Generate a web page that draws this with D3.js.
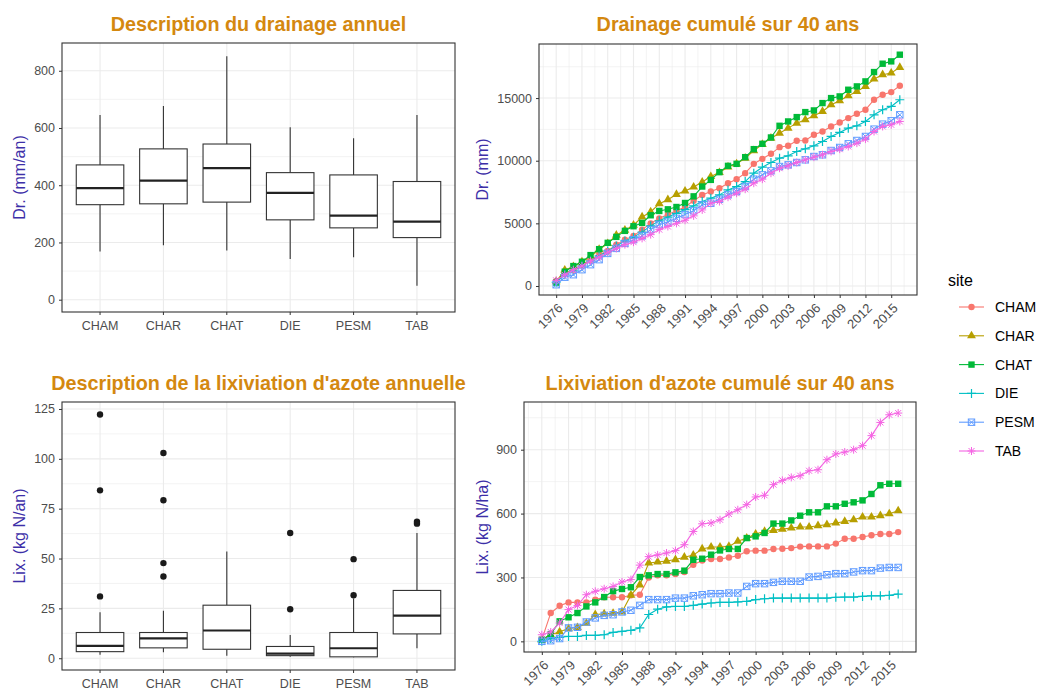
<!DOCTYPE html>
<html><head><meta charset="utf-8">
<script src="https://cdn.jsdelivr.net/npm/d3@7/dist/d3.min.js"></script>
<style>body{margin:0;background:#fff;} svg{display:block;font-family:"Liberation Sans",Arial,sans-serif;}</style>
</head><body><svg id="c" width="1039" height="690"></svg>
<script>
// ---------- DATA ----------
const sites = ["CHAM","CHAR","CHAT","DIE","PESM","TAB"];
const siteColors = ["#F8766D","#B79F00","#00BA38","#00BFC4","#619CFF","#F564E3"];
const siteShapes = ["circle","triangle","square","plus","squarex","asterisk"];
const years = [1976,1977,1978,1979,1980,1981,1982,1983,1984,1985,1986,1987,1988,1989,1990,1991,1992,1993,1994,1995,1996,1997,1998,1999,2000,2001,2002,2003,2004,2005,2006,2007,2008,2009,2010,2011,2012,2013,2014,2015,2016];
const yearTicks = [1976,1979,1982,1985,1988,1991,1994,1997,2000,2003,2006,2009,2012,2015];

// annual drainage boxplot statistics (mm/an)
const drLow  = [168,190,172,142,148,49];
const drQ1   = [332,335,341,279,251,217];
const drMed  = [390,416,460,373,294,273];
const drQ3   = [471,527,544,444,436,413];
const drHigh = [645,677,851,603,564,645];
const drTicks = [0,200,400,600,800];

// annual N leaching boxplot statistics (kg N/an)
const lxLow  = [1.7,3,1.3,0.8,0.5,5];
const lxQ1   = [3.3,5.2,4.5,1.3,0.7,12.2];
const lxMed  = [6.2,10,13.9,2.3,5,21.4];
const lxQ3   = [12.9,12.9,26.6,5.9,12.9,34];
const lxHigh = [23.1,23.8,53.5,11.7,30,62.8];
const lxOutSite = ["CHAM","CHAM","CHAM","CHAR","CHAR","CHAR","CHAR","DIE","DIE","PESM","PESM","TAB","TAB"];
const lxOutVal  = [122.2,84.2,31,102.9,79.2,47.7,41,62.8,24.6,49.7,31.6,68.5,67.5];
const lxTicks = [0,25,50,75,100,125];

// cumulative drainage (mm)
const drCHAM = [400,1000,1300,1700,2100,2500,2800,3300,3700,4000,4500,5000,5400,5700,6000,6300,6800,7270,7540,7805,8205,8525,9004,9750,10150,10550,11082,11190,11590,11615,12068,12334,12734,13054,13400,13746,14066,14865,15264,15477,15984];
const drCHAR = [345,1272,1537,1935,2332,2915,3392,4055,4452,4850,5512,5910,6572,6890,7314,7579,7897,8295,8738,9058,9500,9750,10200,10800,11300,11800,12200,12600,13000,13266,13586,13933,14465,14785,15184,15531,15931,16517,16863,16996,17450];
const drCHAT = [265,1140,1590,1935,2465,2940,3445,3920,4400,4770,5035,5645,5990,6120,6305,6625,7155,7939,8470,9085,9590,9750,10283,10922,11349,11855,12787,13134,13480,13880,14013,14600,14998,15132,15664,15931,16330,17076,17742,17929,18462];
const drDIE  = [300,900,1200,1600,2000,2400,2800,3200,3600,3900,4300,4800,5200,5500,5800,6100,6400,6740,7006,7273,7672,7939,8338,9004,9484,9857,10203,10390,10736,10949,11189,11535,11935,12254,12600,12787,13134,13666,14066,14332,14865];
const drPESM = [100,700,900,1300,1700,2100,2600,3000,3400,3700,4000,4500,4900,5100,5400,5700,6000,6473,6607,6926,7273,7540,7939,8525,8871,9191,9537,9670,9857,10070,10336,10470,10816,11056,11349,11615,11935,12521,12920,13187,13666];
const drTAB  = [450,900,1300,1600,2000,2300,2700,3000,3300,3500,3800,4100,4500,4750,5000,5250,5600,6074,6607,6740,7086,7406,7726,8205,8525,9004,9404,9590,9857,10070,10283,10470,10736,10922,11136,11402,11722,12334,12734,12867,13134];
const drCumTicks = [0,5000,10000,15000];

// cumulative N leaching (kg N/ha)
const lxCHAM = [8,133,167,183,183,183,196,207,207,207,216,219,300,310,310,316,326,360,380,387,387,394,402,423,426,426,434,435,438,445,446,446,446,459,482,482,490,498,504,504,513];
const lxCHAR = [5,30,45,60,65,85,126,129,132,138,217,265,368,373,377,384,395,405,434,443,443,446,470,485,504,516,521,527,532,537,537,543,548,556,563,571,584,584,590,599,613];
const lxCHAT = [8,34,94,113,133,164,183,208,236,246,254,302,310,316,316,324,332,383,388,407,427,434,434,485,493,509,553,553,568,590,606,606,634,634,646,653,662,692,733,740,740];
const lxDIE  = [0,13,19,23,23,28,28,31,42,47,52,63,126,151,162,164,164,169,175,180,183,183,185,188,196,200,203,203,203,203,203,203,203,207,208,208,211,214,214,216,222];
const lxPESM = [0,3,13,63,66,91,110,122,125,138,146,169,196,196,196,203,203,214,219,224,224,227,227,258,271,271,277,282,282,282,302,305,313,318,318,326,332,332,344,347,347];
const lxTAB  = [31,44,86,149,168,219,235,247,258,279,290,358,398,406,415,426,454,516,552,556,571,598,618,642,678,686,736,756,770,778,801,806,853,880,889,900,919,966,1028,1064,1072];
const lxCumTicks = [0,300,600,900];

// ---------- DRAWING ----------
const svg = d3.select("#c");
const titleColor = "#D4880F";
const axisTitleColor = "#3D2FA8";
const tickColor = "#4D4D4D";
const gridColor = "#EBEBEB";

function styleAxis(g, fs) {
  g.select(".domain").remove();
  g.selectAll(".tick line").attr("stroke", "#333").attr("stroke-width", 1);
  g.selectAll(".tick text").attr("fill", tickColor).attr("font-size", fs || 12).attr("font-family", "Liberation Sans, Arial, sans-serif");
}

function titles(p, title, ytitle, titleY, ytx) {
  svg.append("text").attr("x", (p.l + p.r) / 2).attr("y", titleY)
    .attr("text-anchor", "middle").attr("font-weight", "bold").attr("font-size", 19.8)
    .attr("fill", titleColor).text(title);
  svg.append("text").attr("transform", `translate(${ytx},${(p.t + p.b) / 2}) rotate(-90)`)
    .attr("text-anchor", "middle").attr("dy", "0.35em").attr("font-size", 16)
    .attr("fill", axisTitleColor).text(ytitle);
}

function hGrid(g, p, y, majors, minors) {
  minors.forEach(v => g.append("line").attr("x1", p.l).attr("x2", p.r).attr("y1", y(v)).attr("y2", y(v)).attr("stroke", gridColor).attr("stroke-width", 0.6));
  majors.forEach(v => g.append("line").attr("x1", p.l).attr("x2", p.r).attr("y1", y(v)).attr("y2", y(v)).attr("stroke", gridColor).attr("stroke-width", 1.1));
}

function boxPanel(p, yDomain, ticks, minors, low, q1, med, q3, high, outS, outV, title, ytitle, titleY) {
  const g = svg.append("g");
  const x = d3.scaleBand().domain(sites).range([p.l, p.r]).paddingInner(0).paddingOuter(0.1);
  const y = d3.scaleLinear().domain(yDomain).range([p.b, p.t]);
  hGrid(g, p, y, ticks, minors);
  sites.forEach(s => {
    const cx = x(s) + x.bandwidth() / 2;
    g.append("line").attr("x1", cx).attr("x2", cx).attr("y1", p.t).attr("y2", p.b).attr("stroke", gridColor).attr("stroke-width", 1.1);
  });
  const bw = x.bandwidth() * 0.75;
  sites.forEach((s, i) => {
    const cx = x(s) + x.bandwidth() / 2;
    g.append("line").attr("x1", cx).attr("x2", cx).attr("y1", y(high[i])).attr("y2", y(q3[i])).attr("stroke", "#333").attr("stroke-width", 1.1);
    g.append("line").attr("x1", cx).attr("x2", cx).attr("y1", y(q1[i])).attr("y2", y(low[i])).attr("stroke", "#333").attr("stroke-width", 1.1);
    g.append("rect").attr("x", cx - bw / 2).attr("width", bw).attr("y", y(q3[i])).attr("height", y(q1[i]) - y(q3[i]))
      .attr("fill", "#fff").attr("stroke", "#333").attr("stroke-width", 1.1);
    g.append("line").attr("x1", cx - bw / 2).attr("x2", cx + bw / 2).attr("y1", y(med[i])).attr("y2", y(med[i])).attr("stroke", "#222").attr("stroke-width", 2.2);
  });
  outS.forEach((s, k) => {
    g.append("circle").attr("cx", x(s) + x.bandwidth() / 2).attr("cy", y(outV[k])).attr("r", 3.2).attr("fill", "#1a1a1a");
  });
  g.append("rect").attr("x", p.l).attr("y", p.t).attr("width", p.r - p.l).attr("height", p.b - p.t).attr("fill", "none").attr("stroke", "#333").attr("stroke-width", 1.1);
  const ya = svg.append("g").attr("transform", `translate(${p.l},0)`).call(d3.axisLeft(y).tickValues(ticks).tickSize(3).tickPadding(4));
  styleAxis(ya, 12.5);
  const xa = svg.append("g").attr("transform", `translate(0,${p.b})`).call(d3.axisBottom(x).tickSize(3).tickPadding(6));
  styleAxis(xa, 12.5);
  titles(p, title, ytitle, titleY, 19);
}

function symbol(g, shape, cx, cy, color) {
  const s = g.append("g").attr("transform", `translate(${cx},${cy})`);
  if (shape === "circle") s.append("circle").attr("r", 3.2).attr("fill", color);
  else if (shape === "triangle") s.append("path").attr("d", d3.symbol(d3.symbolTriangle, 34)()).attr("fill", color);
  else if (shape === "square") s.append("rect").attr("x", -3.2).attr("y", -3.2).attr("width", 6.4).attr("height", 6.4).attr("fill", color);
  else if (shape === "plus") s.append("path").attr("d", "M-4.5,0H4.5M0,-4.5V4.5").attr("stroke", color).attr("stroke-width", 1.2);
  else if (shape === "squarex") {
    s.append("rect").attr("x", -3.2).attr("y", -3.2).attr("width", 6.4).attr("height", 6.4).attr("fill", "none").attr("stroke", color).attr("stroke-width", 1);
    s.append("path").attr("d", "M-3.2,-3.2L3.2,3.2M-3.2,3.2L3.2,-3.2").attr("stroke", color).attr("stroke-width", 1);
  } else if (shape === "asterisk") {
    s.append("path").attr("d", "M-4,0H4M0,-4V4M-3,-3L3,3M-3,3L3,-3").attr("stroke", color).attr("stroke-width", 1);
  }
}

function linePanel(p, yDomain, ticks, minors, series, title, ytitle, titleY, ytx) {
  const g = svg.append("g");
  const x = d3.scaleLinear().domain([1974, 2018]).range([p.l, p.r]);
  const y = d3.scaleLinear().domain(yDomain).range([p.b, p.t]);
  hGrid(g, p, y, ticks, minors);
  const xMinor = [1974.5].concat(yearTicks.map(v => v + 1.5));
  xMinor.filter(v => v < 2018).forEach(v => g.append("line").attr("x1", x(v)).attr("x2", x(v)).attr("y1", p.t).attr("y2", p.b).attr("stroke", gridColor).attr("stroke-width", 0.6));
  yearTicks.forEach(v => g.append("line").attr("x1", x(v)).attr("x2", x(v)).attr("y1", p.t).attr("y2", p.b).attr("stroke", gridColor).attr("stroke-width", 1.1));
  const line = d3.line().x((d, i) => x(years[i])).y(d => y(d));
  series.forEach((vals, si) => {
    g.append("path").attr("d", line(vals)).attr("fill", "none").attr("stroke", siteColors[si]).attr("stroke-width", 1.1);
    vals.forEach((v, i) => symbol(g, siteShapes[si], x(years[i]), y(v), siteColors[si]));
  });
  g.append("rect").attr("x", p.l).attr("y", p.t).attr("width", p.r - p.l).attr("height", p.b - p.t).attr("fill", "none").attr("stroke", "#333").attr("stroke-width", 1.1);
  const ya = svg.append("g").attr("transform", `translate(${p.l},0)`).call(d3.axisLeft(y).tickValues(ticks).tickSize(3).tickPadding(4).tickFormat(d3.format("d")));
  styleAxis(ya, 12.5);
  const xa = svg.append("g").attr("transform", `translate(0,${p.b})`).call(d3.axisBottom(x).tickValues(yearTicks).tickSize(3).tickFormat(d3.format("d")));
  styleAxis(xa, 13);
  xa.selectAll(".tick text").attr("text-anchor", "end").attr("y", 0).attr("dy", 0)
    .attr("transform", "translate(7,14) rotate(-45)");
  titles(p, title, ytitle, titleY, ytx);
}

// panels
boxPanel({l: 62, r: 455, t: 43, b: 312}, [-43, 897], drTicks, [100, 300, 500, 700],
  drLow, drQ1, drMed, drQ3, drHigh, [], [], "Description du drainage annuel", "Dr. (mm/an)", 31);

boxPanel({l: 62, r: 455, t: 402, b: 670}, [-5.9, 128.5], lxTicks, [12.5, 37.5, 62.5, 87.5, 112.5],
  lxLow, lxQ1, lxMed, lxQ3, lxHigh, lxOutSite, lxOutVal, "Description de la lixiviation d'azote annuelle", "Lix. (kg N/an)", 390);

linePanel({l: 539, r: 917, t: 44, b: 295}, [-719, 19316], drCumTicks, [2500, 7500, 12500, 17500],
  [drCHAM, drCHAR, drCHAT, drDIE, drPESM, drTAB], "Drainage cumulé sur 40 ans", "Dr. (mm)", 31, 482);

linePanel({l: 524, r: 916, t: 402, b: 652}, [-50, 1124], lxCumTicks, [150, 450, 750, 1050],
  [lxCHAM, lxCHAR, lxCHAT, lxDIE, lxPESM, lxTAB], "Lixiviation d'azote cumulé sur 40 ans", "Lix. (kg N/ha)", 390, 482);

// legend
const lg = svg.append("g");
lg.append("text").attr("x", 948).attr("y", 286).attr("font-size", 16).attr("fill", "#000").text("site");
sites.forEach((s, i) => {
  const yy = 307 + i * 28.8;
  lg.append("line").attr("x1", 959).attr("x2", 984).attr("y1", yy).attr("y2", yy).attr("stroke", siteColors[i]).attr("stroke-width", 1.1);
  symbol(lg, siteShapes[i], 971.5, yy, siteColors[i]);
  lg.append("text").attr("x", 995).attr("y", yy).attr("dy", "0.35em").attr("font-size", 14).attr("fill", "#000").text(s);
});
</script></body></html>
